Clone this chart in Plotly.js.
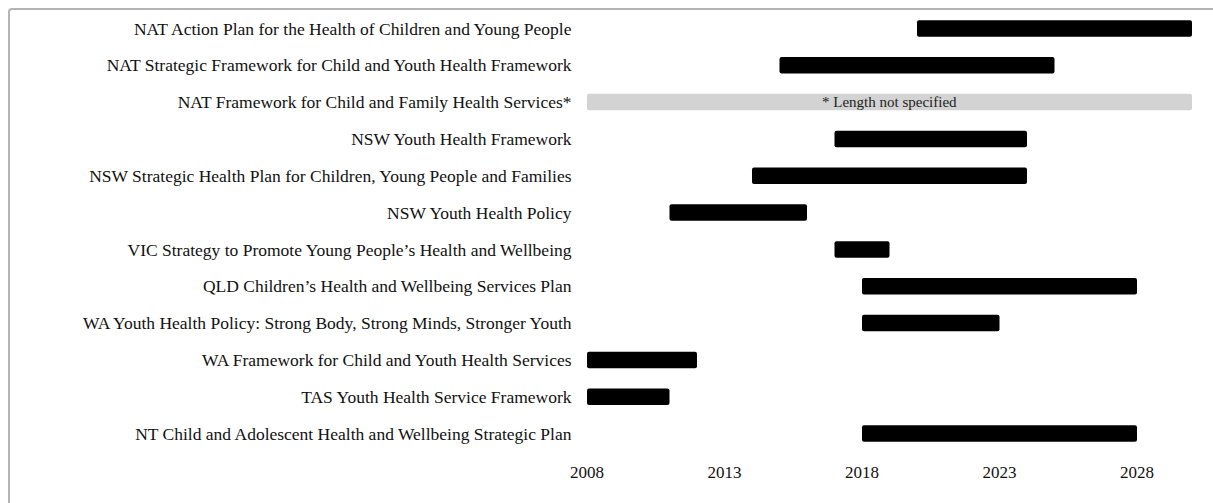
<!DOCTYPE html>
<html>
<head>
<meta charset="utf-8">
<script src="https://cdn.plot.ly/plotly-3.0.1.min.js"></script>
<style>
html,body{margin:0;padding:0;background:#fff;}
#frame{position:absolute;left:8px;top:8px;width:1220px;height:510px;border:2px solid #b4b4b4;border-radius:4px;box-sizing:border-box;}
#chart{position:absolute;left:0;top:0;width:1213px;height:503px;}
</style>
</head>
<body>
<div id="frame"></div>
<div id="chart"></div>
<script>
const policies = [
  "NAT Action Plan for the Health of Children and Young People",
  "NAT Strategic Framework for Child and Youth Health Framework",
  "NAT Framework for Child and Family Health Services*",
  "NSW Youth Health Framework",
  "NSW Strategic Health Plan for Children, Young People and Families",
  "NSW Youth Health Policy",
  "VIC Strategy to Promote Young People\u2019s Health and Wellbeing",
  "QLD Children\u2019s Health and Wellbeing Services Plan",
  "WA Youth Health Policy: Strong Body, Strong Minds, Stronger Youth",
  "WA Framework for Child and Youth Health Services",
  "TAS Youth Health Service Framework",
  "NT Child and Adolescent Health and Wellbeing Strategic Plan"
];
const startYear = [2020, 2015, 2008, 2017, 2014, 2011, 2017, 2018, 2018, 2008, 2008, 2018];
const endYear   = [2030, 2025, 2030, 2024, 2024, 2016, 2019, 2028, 2023, 2012, 2011, 2028];
const unspecified = [false, false, true, false, false, false, false, false, false, false, false, false];
const noteText = "* Length not specified";
const xTicks = [2008, 2013, 2018, 2023, 2028];

const durations = startYear.map((s, i) => endYear[i] - s);
const colors = unspecified.map(u => u ? "#d3d3d3" : "#000000");
const SERIF = "Liberation Serif";

const trace = {
  type: "bar",
  orientation: "h",
  y: policies,
  x: durations,
  base: startYear,
  width: 0.45,
  marker: { color: colors, cornerradius: 2, line: { width: 0 } },
  hoverinfo: "skip"
};

const annotations = [];
policies.forEach((p, i) => {
  if (unspecified[i]) {
    annotations.push({
      x: (startYear[i] + endYear[i]) / 2,
      y: p, xref: "x", yref: "y",
      text: noteText, showarrow: false,
      font: { family: SERIF, size: 15, color: "#222" }
    });
  }
});

const layout = {
  width: 1213, height: 503,
  margin: { l: 587, r: 21, t: 10, b: 51 },
  paper_bgcolor: "rgba(0,0,0,0)",
  plot_bgcolor: "rgba(0,0,0,0)",
  font: { family: SERIF, size: 17, color: "#111" },
  showlegend: false,
  xaxis: {
    range: [2008, 2030],
    tickvals: xTicks,
    ticktext: xTicks.map(String),
    showgrid: false, zeroline: false, showline: false,
    ticks: "outside", ticklen: 5, tickcolor: "rgba(0,0,0,0)",
    tickfont: { family: SERIF, size: 17 },
    fixedrange: true
  },
  yaxis: {
    type: "category",
    autorange: "reversed",
    showgrid: false, zeroline: false, showline: false,
    ticks: "outside", ticklen: 11, tickcolor: "rgba(0,0,0,0)",
    tickfont: { family: SERIF, size: 17.5 },
    fixedrange: true
  },
  annotations: annotations
};

Plotly.newPlot("chart", [trace], layout, { displayModeBar: false, staticPlot: true });
</script>
</body>
</html>
